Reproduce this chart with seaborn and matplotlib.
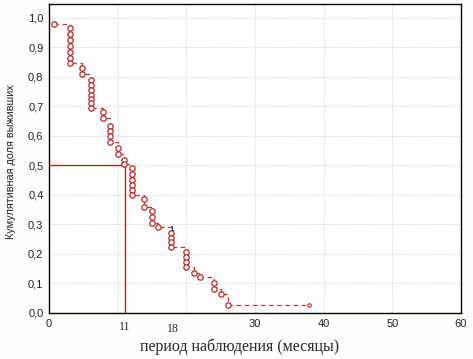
import matplotlib
matplotlib.use("Agg")
import matplotlib.pyplot as plt
import matplotlib.transforms as mtransforms
import seaborn as sns
import pandas as pd

# Event times (months) and cumulative survival at each event
times = [0.8,
         3.0, 3.0, 3.0, 3.0, 3.0, 3.0, 3.0,
         4.8, 4.8,
         6.1, 6.1, 6.1, 6.1, 6.1, 6.1, 6.1,
         7.8, 7.8,
         8.9, 8.9, 8.9, 8.9,
         10.0, 10.0,
         10.9, 10.9,
         12.1, 12.1, 12.1, 12.1, 12.1, 12.1,
         13.9, 13.9,
         15.0, 15.0, 15.0,
         15.9,
         17.8, 17.8, 17.8, 17.8,
         20.0, 20.0, 20.0, 20.0,
         21.1,
         22.0,
         24.0, 24.0,
         25.0,
         26.0]
survival = [0.98,
            0.965, 0.945, 0.925, 0.905, 0.885, 0.865, 0.848,
            0.83, 0.81,
            0.79, 0.772, 0.755, 0.74, 0.725, 0.71, 0.695,
            0.68, 0.66,
            0.635, 0.618, 0.60, 0.58,
            0.56, 0.54,
            0.52, 0.505,
            0.49, 0.47, 0.452, 0.435, 0.417, 0.40,
            0.385, 0.36,
            0.345, 0.325, 0.305,
            0.29,
            0.27, 0.255, 0.24, 0.225,
            0.205, 0.19, 0.172, 0.155,
            0.137,
            0.122,
            0.10, 0.083,
            0.065,
            0.027]
last_time = 37.8
median_time = 11
median_level = 0.5

xticks = [0, 10, 20, 30, 40, 50, 60]
xtick_labels = ["0", "", "", "30", "40", "50", "60"]
yticks = [0.0, 0.1, 0.2, 0.3, 0.4, 0.5, 0.6, 0.7, 0.8, 0.9, 1.0]
ytick_labels = ["0,0", "0,1", "0,2", "0,3", "0,4", "0,5", "0,6", "0,7", "0,8", "0,9", "1,0"]
marked_ticks = [11, 18]

sns.set_style("white")
plt.rcParams["font.family"] = ["Liberation Sans", "DejaVu Sans"]

fig = plt.figure(figsize=(4.73, 3.59), dpi=100, facecolor="#fffefa")
ax = fig.add_axes([49 / 473, 1 - 313 / 359, (461 - 49) / 473, (313 - 4) / 359])
ax.set_facecolor("white")

df = pd.DataFrame({"t": times + [last_time], "s": survival + [survival[-1]]})
sns.lineplot(data=df, x="t", y="s", estimator=None, sort=False, ax=ax,
             drawstyle="steps-post", color="#c83030", linestyle=(0, (3.5, 3)),
             linewidth=0.9)
pts = pd.DataFrame({"t": times, "s": survival})
sns.scatterplot(data=pts, x="t", y="s", ax=ax, s=15, marker="o",
                facecolor="white", edgecolor="#b52a2a", linewidth=0.9, zorder=3)
ax.plot([last_time], [survival[-1]], marker="o", ms=2.5, mfc="white",
        mec="#b52a2a", mew=0.8, zorder=3)

# median reference line
ax.plot([0, median_time, median_time], [median_level, median_level, 0],
        color="#c41a1a", linewidth=1.0, zorder=2)

ax.text(17.8, 0.283, "1", color="#1a2a6a", fontsize=6, ha="center", va="center",
        zorder=4)

ax.set_xlim(0, 60)
ax.set_ylim(0, 1.047)
ax.set_xticks(xticks)
ax.set_xticklabels(xtick_labels, fontsize=8)
ax.set_yticks(yticks)
ax.set_yticklabels(ytick_labels, fontsize=8)
ax.tick_params(direction="in", length=2.5, width=0.8, colors="#222222", pad=4)
ax.grid(True, color="#d0d0d0", linestyle=(0, (1.5, 1.5)), linewidth=0.6)
for sp in ax.spines.values():
    sp.set_visible(True)
    sp.set_color("black")
    sp.set_linewidth(1.0)

ax.set_xlabel("")
ax.set_ylabel("Кумулятивная доля выживших", fontsize=7.8, color="#222222")
ax.yaxis.set_label_coords(-0.08, 0.49)

trans = mtransforms.blended_transform_factory(ax.transData, ax.transAxes)
ax.text(marked_ticks[0], -0.045, str(marked_ticks[0]), transform=trans,
        family="Liberation Serif", fontsize=8.5, ha="center", va="center")
ax.text(marked_ticks[1], -0.052, str(marked_ticks[1]), transform=trans,
        family="Liberation Serif", fontsize=8.5, ha="center", va="center")

fig.text(240 / 473, 1 - 347 / 359, "период наблюдения (месяцы)",
         family="Liberation Serif", fontsize=11.5, ha="center", va="center")

fig.savefig("out.png", dpi=100, facecolor=fig.get_facecolor())
